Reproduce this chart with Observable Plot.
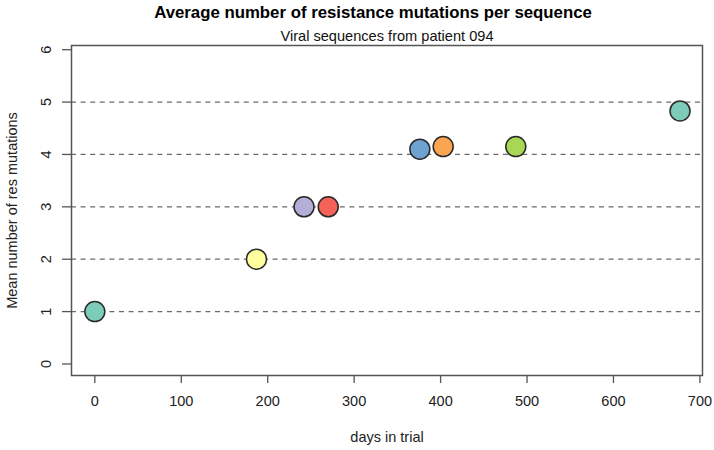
<!DOCTYPE html>
<html>
<head>
<meta charset="utf-8">
<script src="https://cdn.jsdelivr.net/npm/d3@7"></script>
<script src="https://cdn.jsdelivr.net/npm/@observablehq/plot@0.6"></script>
<style>
  html, body { margin: 0; padding: 0; background: #fff; }
  #chart svg { font-family: "Liberation Sans", Arial, Helvetica, sans-serif; }
</style>
</head>
<body>
<div id="chart"></div>
<script>
// Data
const days  = [0, 187, 242, 270, 376, 403, 487, 677];
const means = [1, 2, 3, 3, 4.1, 4.15, 4.15, 4.83];
const pointColors = ["#7dcbb9", "#ffff9e", "#b3afd9", "#f4625a", "#6ea2d1", "#fba452", "#a8d755", "#7dcbb9"];
const xTicks = [0, 100, 200, 300, 400, 500, 600, 700];
const yTicks = [0, 1, 2, 3, 4, 5, 6];
const gridLevels = [1, 2, 3, 4, 5];
const titleText = "Average number of resistance mutations per sequence";
const subtitleText = "Viral sequences from patient 094";
const xLabel = "days in trial";
const yLabel = "Mean number of res mutations";

const points = days.map((d, i) => ({day: d, mean: means[i], color: pointColors[i]}));

const chart = Plot.plot({
  width: 714,
  height: 450,
  marginLeft: 71,
  marginRight: 12,
  marginTop: 45,
  marginBottom: 75,
  style: {fontFamily: '"Liberation Sans", Arial, Helvetica, sans-serif', background: "#fff"},
  x: {domain: [-27, 703], axis: null},
  y: {domain: [-0.22, 6.08], axis: null},
  marks: [
    Plot.ruleY(gridLevels, {y: d => d, stroke: "#6b6b6b", strokeWidth: 1.2, strokeDasharray: "5,4.6"}),
    Plot.frame({stroke: "#555", strokeWidth: 1.5}),
    Plot.axisX(xTicks, {anchor: "bottom", tickSize: 8, tickPadding: 12, fontSize: 14.5, stroke: "#555", strokeWidth: 1.3, fill: "#222", label: null}),
    Plot.axisY(yTicks, {anchor: "left", tickSize: 9, stroke: "#555", strokeWidth: 1.3, tickFormat: () => "", label: null}),
    Plot.text(yTicks, {y: d => d, text: d => String(d), frameAnchor: "left", textAnchor: "middle", lineAnchor: "middle", dx: -25, rotate: -90, fontSize: 14.5, fill: "#222"}),
    Plot.dot(points, {x: "day", y: "mean", r: 10, fill: "color", stroke: "#2a2a2a", strokeWidth: 1.5}),
    Plot.text([titleText], {text: d => d, frameAnchor: "top", textAnchor: "middle", lineAnchor: "middle", dx: -14, dy: -33, fontSize: 16.8, fontWeight: "bold", fill: "#000"}),
    Plot.text([subtitleText], {text: d => d, frameAnchor: "top", textAnchor: "middle", lineAnchor: "middle", dy: -9, fontSize: 14.6, fill: "#111"}),
    Plot.text([xLabel], {text: d => d, frameAnchor: "bottom", textAnchor: "middle", lineAnchor: "middle", dy: 62, fontSize: 14.5, fill: "#222"}),
    Plot.text([yLabel], {text: d => d, frameAnchor: "left", textAnchor: "middle", lineAnchor: "middle", dx: -59, rotate: -90, fontSize: 14.5, fill: "#222"})
  ]
});
document.getElementById("chart").appendChild(chart);
</script>
</body>
</html>
